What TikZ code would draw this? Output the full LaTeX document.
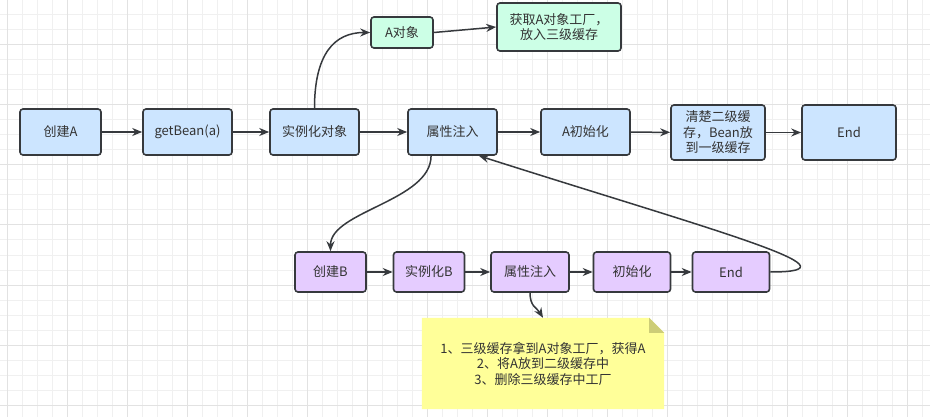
\documentclass[tikz,border=0pt]{standalone}
\usepackage{fontspec}
\setmainfont{Noto Sans CJK SC}
\usetikzlibrary{arrows.meta,backgrounds}
\definecolor{edge}{HTML}{36393D}
\definecolor{ink}{HTML}{333333}
\definecolor{bluefill}{HTML}{CCE5FF}
\definecolor{greenfill}{HTML}{CCFFE6}
\definecolor{purplefill}{HTML}{E5CCFF}
\definecolor{notefill}{HTML}{FFFF99}
\definecolor{foldfill}{HTML}{CDCD77}
\definecolor{minorgrid}{HTML}{F0F0F0}
\definecolor{majorgrid}{HTML}{E2E2E2}
\tikzset{
  box/.style={draw=edge, line width=1.6pt, rounded corners=3pt, inner sep=0pt, align=center, text=ink, font=\fontsize{13pt}{15.5pt}\selectfont},
  abox/.style={box, fill=bluefill, minimum width=89pt, minimum height=46pt},
  gbox/.style={box, fill=greenfill},
  pbox/.style={box, fill=purplefill, minimum height=40pt},
  notebox/.style={inner sep=0pt, align=center, text=ink, font=\fontsize{13pt}{15.5pt}\selectfont},
  arr/.style={-{Stealth[length=10pt,width=8pt]}, draw=edge, line width=1.5pt},
  minorline/.style={draw=minorgrid, line width=1pt},
  majorline/.style={draw=majorgrid, line width=1pt}
}
\begin{document}
\begin{tikzpicture}[x=1pt, y=-1pt]
  \useasboundingbox (0,0) rectangle (930,417);

  \node (creA) at (60.5,132) [abox, minimum width=81pt] {创建A};
  \node (getb) at (187.5,132) [abox] {getBean(a)};
  \node (inst) at (314.5,132) [abox] {实例化对象};
  \node (prop) at (452.5,132) [abox] {属性注入};
  \node (initA) at (585.5,132) [abox] {A初始化};
  \node (clr) at (718,132.5) [abox, minimum width=94pt, minimum height=55pt] {清楚二级缓\\存，Bean放\\到一级缓存};
  \node (endA) at (849,132.5) [abox, minimum width=94pt, minimum height=55pt] {End};
  \node (aobj) at (402,32.5) [gbox, minimum width=62pt, minimum height=31pt] {A对象};
  \node (fac) at (559,27) [gbox, minimum width=124pt, minimum height=48pt] {获取A对象工厂，\\放入三级缓存};

  \node (creB) at (330.5,272) [pbox, minimum width=71pt] {创建B};
  \node (instB) at (429,272) [pbox, minimum width=71pt] {实例化B};
  \node (propB) at (530,272) [pbox, minimum width=78pt] {属性注入};
  \node (initB) at (632,272) [pbox, minimum width=77pt] {初始化};
  \node (endB) at (731,272) [pbox, minimum width=77pt] {End};
  \node (note) at (543,363.5) [notebox, minimum width=242pt, minimum height=91pt] {1、三级缓存拿到A对象工厂，获得A\\2、将A放到二级缓存中\\3、删除三级缓存中工厂};

  \begin{scope}[on background layer]
    \fill[white] (0,0) rectangle (930,417);
    \foreach \gx in {7,22,...,922} \draw[minorline] (\gx,0) -- (\gx,417);
    \foreach \gy in {0,15,...,405} \draw[minorline] (0,\gy) -- (930,\gy);
    \foreach \gx in {7,67,...,907} \draw[majorline] (\gx,0) -- (\gx,417);
    \foreach \gy in {45,105,...,405} \draw[majorline] (0,\gy) -- (930,\gy);
    \fill[notefill] (note.north west) -- ([xshift=-15pt]note.north east) -- ([yshift=-15pt]note.north east) -- (note.south east) -- (note.south west) -- cycle;
    \fill[foldfill] ([xshift=-15pt]note.north east) -- ([yshift=-15pt]note.north east) -- ([xshift=-15pt,yshift=-15pt]note.north east) -- cycle;
  \end{scope}

  \draw[arr] (creA) -- (getb);
  \draw[arr] (getb) -- (inst);
  \draw[arr] (inst) -- (prop);
  \draw[arr] (prop) -- (initA);
  \draw[arr] (initA) -- (clr);
  \draw[arr] (clr) -- (endA);
  \draw[arr] (inst.north) .. controls +(0,-54) and +(-36,0) .. (aobj.west);
  \draw[arr] (aobj.east) -- (fac.west);
  \draw[arr] (prop.-132) .. controls +(0,45) and +(0,-40) .. (creB.north);
  \draw[arr] (creB) -- (instB);
  \draw[arr] (instB) -- (propB);
  \draw[arr] (propB) -- (initB);
  \draw[arr] (initB) -- (endB);
  \draw[arr] (endB.east) .. controls +(100,0) and +(229,73) .. (prop.-42);
  \draw[arr] (propB.south) .. controls +(0,14) and +(-6,-10) .. (note.north);
\end{tikzpicture}
\end{document}
